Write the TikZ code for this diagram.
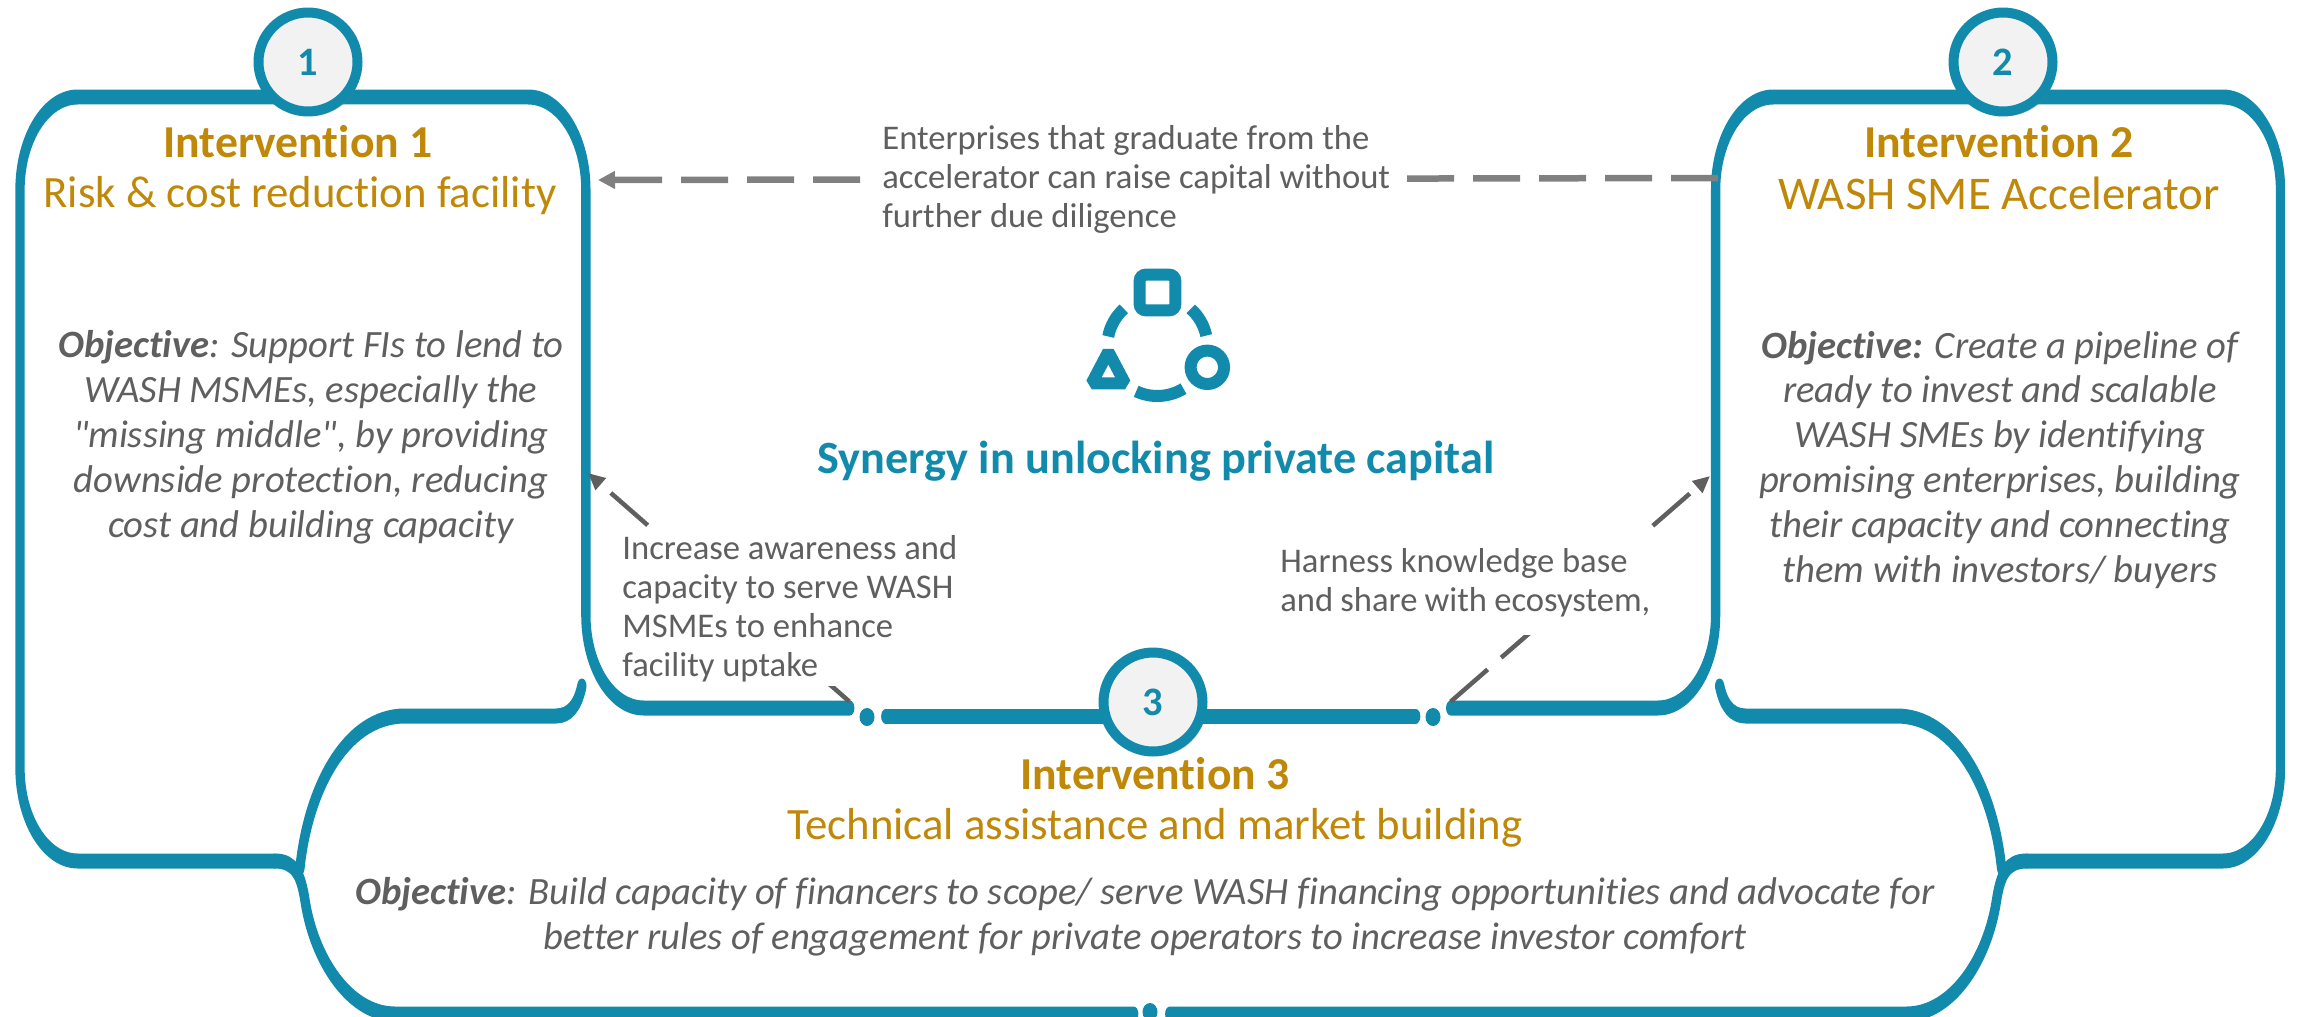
\documentclass[tikz,border=0pt]{standalone}
\usepackage{fontspec}
\defaultfontfeatures[\rmfamily]{Ligatures=NoCommon}
\setmainfont{Carlito}
\usepackage{tikz}
\usetikzlibrary{arrows.meta,shadows,shapes.geometric}
\definecolor{tealcol}{HTML}{118AAB}
\definecolor{goldcol}{HTML}{C08808}
\definecolor{textcol}{HTML}{5F5F5F}

\begin{document}
\begin{tikzpicture}[x=0.02cm, y=-0.02cm,
  panelline/.style = {draw=tealcol, line width=0.3cm, line cap=round},
  panelcorner/.style = {panelline, rounded corners=1.86cm},
  numnode/.style = {shape=circle, draw=tealcol, fill=black!5, line width=0.2cm, minimum size=1.98cm, inner sep=0, text=tealcol, font=\fontsize{23}{27}\selectfont\bfseries, drop shadow={shadow xshift=0.07cm, shadow yshift=-0.09cm, opacity=0.4}},
  dotnode/.style = {shape=ellipse, fill=tealcol, minimum width=0.3cm, minimum height=0.36cm, inner sep=0},
  headnode/.style = {text=goldcol, font=\fontsize{26}{28}\selectfont\bfseries},
  subnode/.style = {text=goldcol, font=\fontsize{25.5}{28}\selectfont},
  objnode/.style = {text=textcol, align=center, font=\fontsize{22}{25.6}\selectfont\itshape},
  sidenode/.style = {text=textcol, fill=white, align=flush left, anchor=north west, inner sep=0.08cm, font=\fontsize{19.7}{22.2}\selectfont},
  iconline/.style = {draw=tealcol, line width=0.24cm},
  lightarrow/.style = {draw=black!50, line width=0.13cm, dash pattern=on 0.94cm off 0.38cm, -{Triangle[length=0.34cm,width=0.34cm]}},
  darkarrow/.style = {draw=textcol, line width=0.09cm, dash pattern=on 0.98cm off 0.36cm, -{Triangle[length=0.34cm,width=0.3cm]}}]
    \useasboundingbox (0,0) rectangle (2301,1017);

    % outlines, stretched like the source
    \begin{scope}[transform canvas={xscale=0.62}, x=0.032258cm]
        \draw[panelcorner] (850,708) -- (586,708) -- (586,97) -- (20,97) -- (20,861) -- (275,861);
        \draw[panelline] (275,861) .. controls (295,861) and (301,875) .. (305,900) .. controls (314,960) and (350,1014) .. (395,1014) -- (1134,1014);
        \draw[panelcorner] (1451,708) -- (1716,708) -- (1716,97) -- (2281,97) -- (2281,861) -- (2027,861);
        \draw[panelline] (2027,861) .. controls (2007,861) and (2001,875) .. (1997,900) .. controls (1988,960) and (1952,1014) .. (1907,1014) -- (1170,1014);
        \draw[panelline] (582,686) .. controls (578,705) and (570,716) .. (556,716) -- (405,716) .. controls (345,716) and (308,790) .. (300,868);
        \draw[panelline] (1720,686) .. controls (1724,705) and (1732,716) .. (1746,716) -- (1897,716) .. controls (1957,716) and (1994,790) .. (2002,868);
        \draw[panelline] (886,716) -- (1416,716);
    \end{scope}

    \node[dotnode] (dotleft) at (867,717) {};
    \node[dotnode] (dotright) at (1433,717) {};
    \node[dotnode] (dotbottom) at (1150,1012) {};

    \coordinate (edgeright) at (1718,178);
    \coordinate (tipleft) at (598,180);
    \coordinate (tipone) at (588,473);
    \coordinate (tiptwo) at (1710,476);

    \draw[lightarrow] (edgeright) -- (tipleft);
    \draw[darkarrow, shorten <=0.3cm] (dotleft) -- (tipone);
    \draw[darkarrow, shorten <=0.3cm] (dotright) -- (tiptwo);

    \node[sidenode, minimum height=2.4cm] (graduate) at (878,119) {Enterprises that graduate from the\\accelerator can raise capital without\\further due diligence};
    \node[sidenode, text width=7.3cm, minimum height=2.86cm] (aware) at (618,531) {Increase awareness and\\capacity to serve WASH\\MSMEs to enhance\\facility uptake};
    \node[sidenode, text width=7.4cm, minimum height=2.1cm] (harness) at (1276,530) {Harness knowledge base\\and share with ecosystem,};

    \node[numnode] (one) at (308,62) {1};
    \node[numnode] (two) at (2003,62) {2};
    \node[numnode] (three) at (1153,702) {3};

    \node[headnode] (headone) at (298,142) {Intervention 1};
    \node[subnode] (subone) at (300,196) {Risk \& cost reduction facility};
    \node[headnode] (headtwo) at (1999,142) {Intervention 2};
    \node[subnode, font=\fontsize{26.7}{28}\selectfont] (subtwo) at (1999,193) {WASH SME Accelerator};
    \node[headnode] (headthree) at (1155,774) {Intervention 3};
    \node[subnode] (subthree) at (1155,828) {Technical assistance and market building};

    \node[objnode] (objone) at (311,437) {\textbf{Objective}: Support FIs to lend to\\WASH MSMEs, especially the\\"missing middle", by providing\\downside protection, reducing\\cost and building capacity};
    \node[objnode] (objtwo) at (2000,460) {\textbf{Objective:} Create a pipeline of\\ready to invest and scalable\\WASH SMEs by identifying\\promising enterprises, building\\their capacity and connecting\\them with investors/ buyers};
    \node[objnode] (objthree) at (1145,917) {\textbf{Objective}: Build capacity of financers to scope/ serve WASH financing opportunities and advocate for\\better rules of engagement for private operators to increase investor comfort};

    \node[text=tealcol, font=\fontsize{26.3}{28}\selectfont\bfseries] (synergy) at (1156,461) {Synergy in unlocking private capital};

    % icon
    \draw[iconline, rounded corners=0.12cm] (1139.7,274.7) rectangle (1175.3,310.3);
    \draw[iconline] (1207.3,367.3) circle [radius=16.7];
    \draw[iconline, line join=bevel] (1108.3,351.7) -- (1091.7,383.3) -- (1125,383.3) -- cycle;
    \draw[iconline] (1157.3,346) ++(-132:50) arc [start angle=-132, end angle=-169, radius=50];
    \draw[iconline] (1157.3,346) ++(-48:50) arc [start angle=-48, end angle=-12, radius=50];
    \draw[iconline] (1157.3,346) ++(115:50) arc [start angle=115, end angle=58.5, radius=50];
\end{tikzpicture}
\end{document}
